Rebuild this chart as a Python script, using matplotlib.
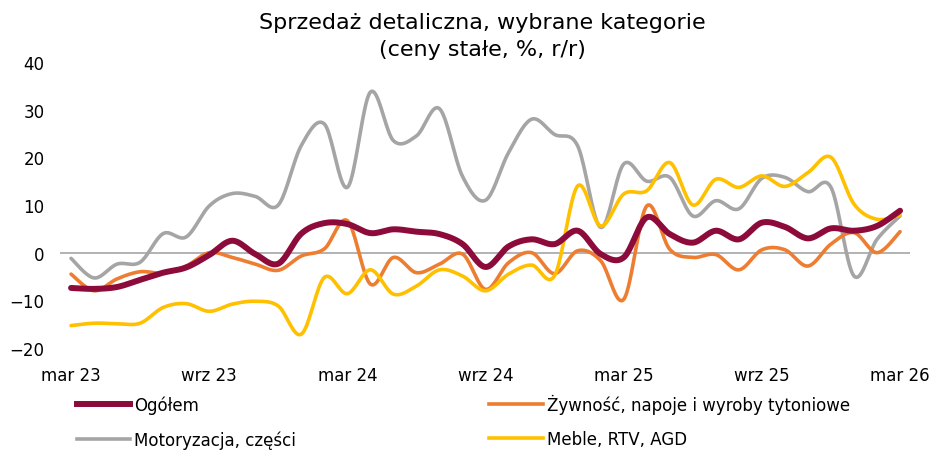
import numpy as np
import matplotlib
matplotlib.use('Agg')
import matplotlib.pyplot as plt
from matplotlib.lines import Line2D

# monthly data, mar 23 .. mar 26
months = ['mar 23', 'kwi 23', 'maj 23', 'cze 23', 'lip 23', 'sie 23',
          'wrz 23', 'paź 23', 'lis 23', 'gru 23', 'sty 24', 'lut 24',
          'mar 24', 'kwi 24', 'maj 24', 'cze 24', 'lip 24', 'sie 24',
          'wrz 24', 'paź 24', 'lis 24', 'gru 24', 'sty 25', 'lut 25',
          'mar 25', 'kwi 25', 'maj 25', 'cze 25', 'lip 25', 'sie 25',
          'wrz 25', 'paź 25', 'lis 25', 'gru 25', 'sty 26', 'lut 26',
          'mar 26']

ogolem = [-7.4, -7.6, -7.2, -5.7, -4.2, -3.1, -0.5, 2.5, -0.3, -2.3,
          4.0, 6.2, 6.0, 4.1, 4.9, 4.4, 3.9, 1.8, -3.0, 1.3,
          2.8, 1.8, 4.6, -0.3, -1.0, 7.4, 3.9, 2.1, 4.6, 2.8,
          6.3, 5.4, 3.0, 5.1, 4.6, 5.6, 8.8]

zywnosc = [-4.5, -8.0, -5.5, -4.0, -4.3, -2.8, 0.0, -1.0, -2.4, -3.7,
           -0.7, 0.8, 6.7, -6.6, -1.0, -4.2, -2.4, -0.3, -7.7, -2.1,
           0.0, -4.4, 0.4, -1.7, -9.8, 9.8, 0.7, -1.0, -0.4, -3.6,
           0.6, 0.6, -2.8, 1.8, 4.2, 0.0, 4.4]

motoryzacja = [-1.2, -5.3, -2.4, -2.0, 4.0, 3.3, 9.8, 12.4, 11.8, 10.0,
               22.5, 27.0, 13.7, 33.7, 23.5, 24.5, 30.2, 16.0, 11.0, 21.0,
               28.0, 24.8, 22.4, 5.3, 18.6, 15.0, 15.8, 7.7, 10.9, 9.2,
               15.6, 15.8, 12.8, 13.7, -4.9, 2.8, 7.7]

meble = [-15.3, -14.8, -14.9, -14.8, -11.5, -10.7, -12.3, -10.8, -10.2, -11.2,
         -17.1, -5.2, -8.6, -3.6, -8.7, -7.0, -3.6, -4.9, -8.0, -4.5,
         -2.6, -4.8, 14.0, 5.6, 12.3, 13.0, 18.9, 10.0, 15.4, 13.7,
         16.1, 13.9, 16.8, 20.0, 10.2, 7.0, 7.9]

tick_idx = [0, 6, 12, 18, 24, 30, 36]


def smoothLine(y, steps=20):
    """Excel-like smoothed line (Bezier through every data point)"""
    p = np.asarray(y, dtype=float)
    x = np.arange(len(p), dtype=float)
    pts = np.column_stack([x, p])
    ext = np.vstack([pts[0], pts, pts[-1]])
    out = []
    t = np.linspace(0, 1, steps, endpoint=False)[:, None]
    for i in range(1, len(ext) - 2):
        p0, p1, p2, p3 = ext[i - 1], ext[i], ext[i + 1], ext[i + 2]
        c1 = p1 + (p2 - p0) / 6
        c2 = p2 - (p3 - p1) / 6
        seg = ((1 - t) ** 3 * p1 + 3 * (1 - t) ** 2 * t * c1
               + 3 * (1 - t) * t ** 2 * c2 + t ** 3 * p2)
        out.append(seg)
    out.append(pts[-1][None, :])
    out = np.vstack(out)
    return out[:, 0], out[:, 1]


plt.rcParams['font.family'] = ['DejaVu Sans']

fig = plt.figure(figsize=(9.33, 4.52), dpi=100)
ax = fig.add_axes([0.0643, 0.2279, 0.911, 0.6327])

ax.axhline(0, color='#A6A6A6', lw=1.2, zorder=1)

series = [
    (ogolem, 'Ogółem', '#8C0B3B', 4.3, 5),
    (zywnosc, 'Żywność, napoje i wyroby tytoniowe', '#ED7D31', 2.6, 3),
    (motoryzacja, 'Motoryzacja, części', '#A5A5A5', 2.6, 2),
    (meble, 'Meble, RTV, AGD', '#FFC000', 2.6, 4),
]
handles = {}
for vals, label, color, lw, z in series:
    xs, ys = smoothLine(vals)
    ax.plot(xs, ys, color=color, lw=lw, zorder=z, solid_capstyle='round')
    handles[label] = Line2D([], [], color=color, lw=lw)

ax.set_xlim(-0.48, 36.43)
ax.set_ylim(-20, 40)
ax.set_yticks(range(-20, 41, 10))
ax.set_xticks(tick_idx)
ax.set_xticklabels([months[i] for i in tick_idx])
ax.tick_params(axis='both', length=0, labelsize=12, colors='black')
ax.tick_params(axis='y', pad=11)
ax.tick_params(axis='x', pad=13)
for s in ax.spines.values():
    s.set_visible(False)

fig.text(0.517, 0.972, 'Sprzedaż detaliczna, wybrane kategorie\n(ceny stałe, %, r/r)',
         ha='center', va='top', fontsize=16, linespacing=1.45)

order = ['Ogółem', 'Motoryzacja, części',
         'Żywność, napoje i wyroby tytoniowe', 'Meble, RTV, AGD']
fig.legend([handles[k] for k in order], order, ncol=2, frameon=False,
           loc='upper left', bbox_to_anchor=(0.075, 0.142), fontsize=12,
           handlelength=3.2, handletextpad=0.25, labelspacing=1.0,
           columnspacing=11.6, borderaxespad=0)

fig.savefig('out.png', dpi=100)
